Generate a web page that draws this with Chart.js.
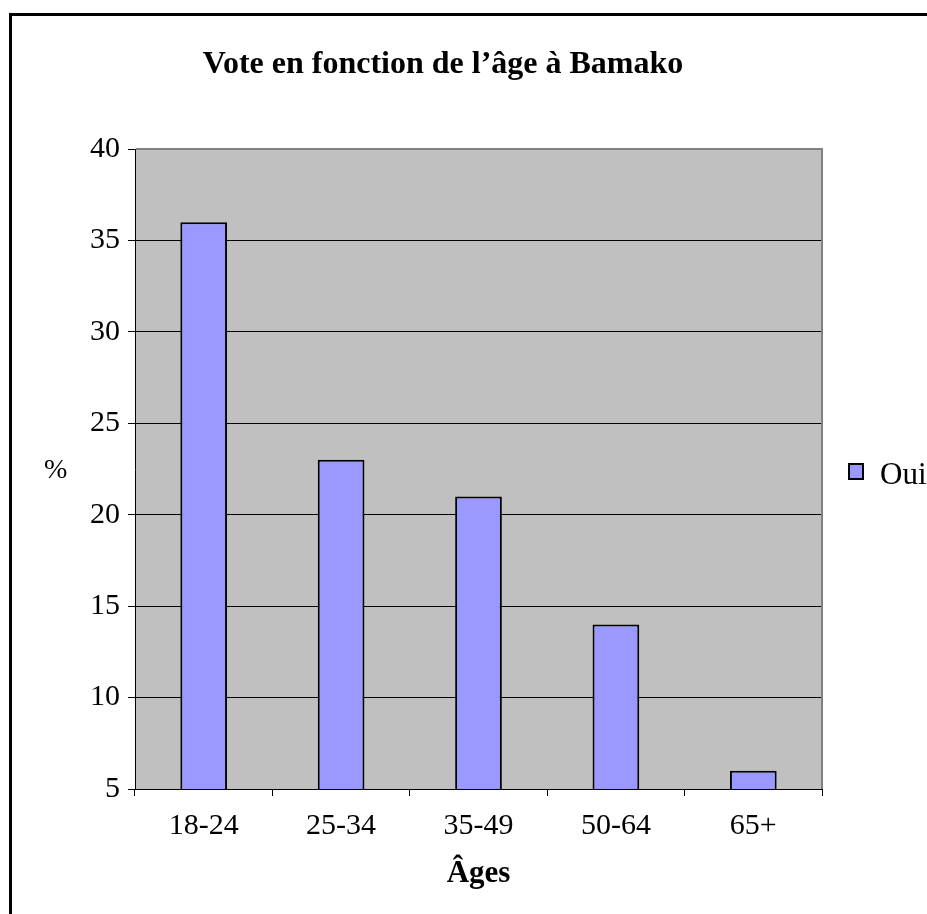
<!DOCTYPE html>
<html lang="fr">
<head>
<meta charset="utf-8">
<title>Vote en fonction de l’âge à Bamako</title>
<script src="https://cdn.jsdelivr.net/npm/chart.js@4"></script>
<style>
  html, body { margin: 0; padding: 0; background: #fff; overflow: hidden; }
  #cadre { position: relative; width: 927px; height: 914px; font-family: "Liberation Serif", "Times New Roman", serif; color: #000; }
  #bord { position: absolute; left: 9px; top: 13px; width: 2000px; height: 2000px; border: 3px solid #000; }
  #graphe { position: absolute; left: 0; top: 0; }
  #titre { position: absolute; left: 0; width: 886px; top: 46px; text-align: center; font-size: 32px; line-height: 32px; font-weight: bold; white-space: nowrap; }
  #pct { position: absolute; left: 44px; top: 455px; font-size: 28px; line-height: 28px; }
  #legende { position: absolute; left: 848px; top: 458px; font-size: 31px; line-height: 31px; white-space: nowrap; }
  #legende .carre { position: absolute; left: 0; top: 5px; width: 12px; height: 13px; border: 2px solid #000; }
  #legende .nom { position: absolute; left: 32px; top: 0; }
</style>
</head>
<body>
<div id="cadre">
  <div id="bord"></div>
  <canvas id="graphe" width="927" height="914"></canvas>
  <div id="titre">Vote en fonction de l’âge à Bamako</div>
  <div id="pct">%</div>
  <div id="legende"><span class="carre"></span><span class="nom"></span></div>
</div>
<script>
// ===============================
// Données
// ===============================
const ages = ["18-24", "25-34", "35-49", "50-64", "65+"];
const oui = [36, 23, 21, 14, 6];
const ticksY = [5, 10, 15, 20, 25, 30, 35, 40];

const couleurBarre = "#9999FF";

// fond gris + bord haut/droite gris
const fondPlot = {
  id: "fondPlot",
  beforeDraw(chart) {
    const { ctx, chartArea: a } = chart;
    ctx.save();
    ctx.fillStyle = "#C0C0C0";
    ctx.fillRect(a.left, a.top, a.right - a.left, a.bottom - a.top);
    ctx.restore();
  },
  afterDatasetsDraw(chart) {
    const { ctx, chartArea: a } = chart;
    ctx.save();
    ctx.strokeStyle = "#808080";
    ctx.lineWidth = 2;
    ctx.beginPath();
    ctx.moveTo(a.left + 1, a.top);
    ctx.lineTo(a.right, a.top);
    ctx.lineTo(a.right, a.bottom);
    ctx.stroke();
    ctx.restore();
  }
};

Chart.defaults.font.family = '"Liberation Serif", "Times New Roman", serif';
Chart.defaults.color = "#000";

const graphe = new Chart(document.getElementById("graphe"), {
  type: "bar",
  data: {
    labels: ages,
    datasets: [{
      label: "Oui",
      data: oui,
      backgroundColor: couleurBarre,
      borderColor: "#000",
      borderWidth: 2,
      borderSkipped: false,
      barPercentage: 0.34,
      categoryPercentage: 1
    }]
  },
  options: {
    responsive: false,
    devicePixelRatio: 1,
    animation: false,
    layout: { padding: { top: 149, right: 105, bottom: 0, left: 0 } },
    plugins: {
      legend: { display: false },
      title: { display: false },
      tooltip: { enabled: false }
    },
    scales: {
      x: {
        grid: { drawOnChartArea: false, color: "#000", tickLength: 7, offset: true },
        border: { color: "#000", width: 1 },
        ticks: { font: { size: 30 }, padding: 12, color: "#000" },
        title: {
          display: true,
          text: "Âges",
          font: { size: 31, weight: "bold" },
          color: "#000",
          padding: { top: 21, bottom: 21 }
        },
        afterFit(s) { s.height = 125; }
      },
      y: {
        min: ticksY[0],
        max: ticksY[ticksY.length - 1],
        grid: { color: "#000", tickLength: 7 },
        border: { color: "#000", width: 1 },
        ticks: { stepSize: 5, font: { size: 30 }, padding: 8, color: "#000" },
        afterFit(s) { s.width = 135; }
      }
    }
  },
  plugins: [fondPlot]
});

// légende
const ds = graphe.data.datasets[0];
document.querySelector("#legende .carre").style.background = ds.backgroundColor;
document.querySelector("#legende .nom").textContent = ds.label;
</script>
</body>
</html>
